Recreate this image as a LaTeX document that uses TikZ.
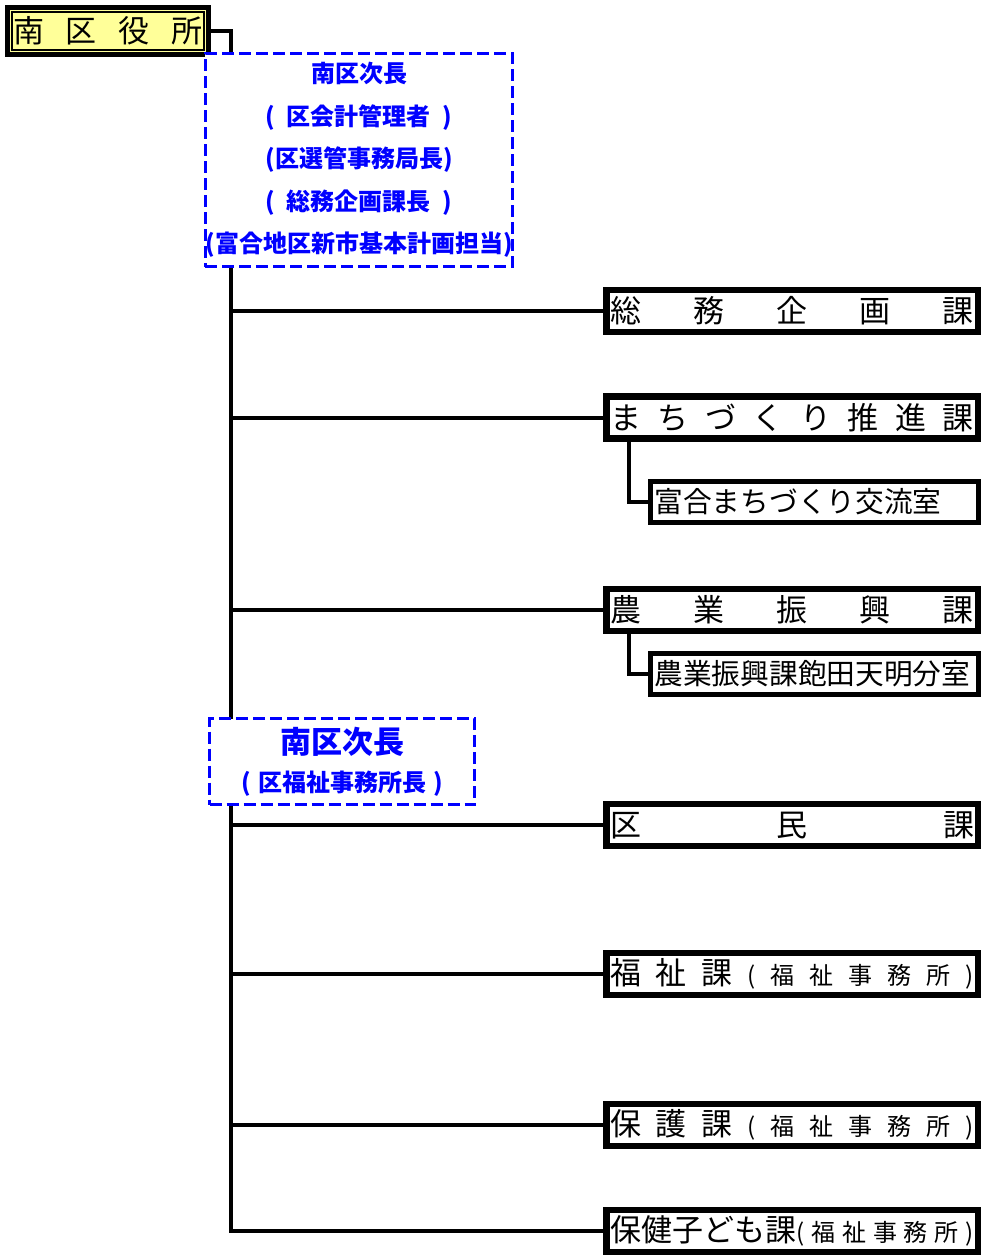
\documentclass[tikz,border=0pt]{standalone}
\usepackage{fontspec}
\setmainfont{Noto Sans CJK JP}
\pgfdeclarelayer{edgelayer}
\pgfsetlayers{edgelayer,main}
\definecolor{offyellow}{RGB}{255,255,153}
\definecolor{depblue}{RGB}{0,0,255}
\newcommand{\smallpart}{\fontsize{24}{31}\selectfont}
\tikzstyle{office}=[draw,line width=5pt,fill=offyellow,minimum width=201pt,minimum height=47pt,inner xsep=5.5pt,inner ysep=0pt,text width=190pt,align=center,font=\fontsize{31}{31}\selectfont]
\tikzstyle{sect}=[draw,line width=6.5pt,fill=white,minimum width=371.5pt,minimum height=42pt,inner xsep=3.75pt,inner ysep=0pt,text width=364pt,align=center,font=\fontsize{31}{31}\selectfont]
\tikzstyle{room}=[draw,line width=5pt,fill=white,minimum width=328pt,minimum height=41pt,inner xsep=4pt,inner ysep=0pt,text width=320pt,align=left,font=\fontsize{28.7}{31}\selectfont]
\tikzstyle{deputy}=[draw=depblue,text=depblue,line width=3.5pt,dash pattern=on 12pt off 5pt,fill=white,align=center,inner sep=0pt,font=\bfseries\fontsize{24}{42.5}\selectfont]
\tikzstyle{conn}=[line width=4pt]

\begin{document}
\begin{tikzpicture}[x=1pt,y=-1pt]
\useasboundingbox (0,0) rectangle (981,1255);
\node[office] (A) at (108,31) {南\hfill 区\hfill 役\hfill 所};
\draw[line width=2pt] ([shift={(7,7)}]A.north west) rectangle ([shift={(-7,-7)}]A.south east);
\node[deputy,minimum width=303pt,minimum height=213pt] (B) at (359,160) {南区次長\\(\hspace{.5em}区会計管理者\hspace{.5em})\\(区選管事務局長)\\(\hspace{.5em}総務企画課長\hspace{.5em})\\(富合地区新市基本計画担当)};
\node[sect] (C) at (792,311) {総\hfill 務\hfill 企\hfill 画\hfill 課};
\node[sect] (D) at (792,417.5) {ま\hfill ち\hfill づ\hfill く\hfill り\hfill 推\hfill 進\hfill 課};
\node[room] (E) at (814.5,502) {富合まちづくり交流室};
\node[sect] (F) at (792,610) {農\hfill 業\hfill 振\hfill 興\hfill 課};
\node[room] (G) at (814.5,674) {農業振興課飽田天明分室};
\node[deputy,minimum width=265pt,minimum height=86pt,font=\bfseries\fontsize{24}{38}\selectfont] (H) at (342,761.5) {{\fontsize{31}{38}\selectfont 南区次長}\\(\hspace{.3em}区福祉事務所長\hspace{.3em})};
\node[sect] (I) at (792,825) {区\hfill 民\hfill 課};
\node[sect] (J) at (792,974) {福\hfill 祉\hfill 課\hfill\smallpart (\hfill 福\hfill 祉\hfill 事\hfill 務\hfill 所\hfill )};
\node[sect] (K) at (792,1125) {保\hfill 護\hfill 課\hfill\smallpart (\hfill 福\hfill 祉\hfill 事\hfill 務\hfill 所\hfill )};
\node[sect] (L) at (792,1231) {保健子ども課\smallpart (\hfill 福\hfill 祉\hfill 事\hfill 務\hfill 所\hfill )};
\coordinate (T) at (231,1231);
\begin{pgfonlayer}{edgelayer}
\draw[conn] (A.east) -| (T) -- (L);
\path[conn]
(C.west -| T) edge (C)
(D.west -| T) edge (D)
(F.west -| T) edge (F)
(I.west -| T) edge (I)
(J.west -| T) edge (J)
(K.west -| T) edge (K);
\draw[conn] ([xshift=26]D.south west) |- (E);
\draw[conn] ([xshift=26]F.south west) |- (G);
\end{pgfonlayer}
\end{tikzpicture}
\end{document}
